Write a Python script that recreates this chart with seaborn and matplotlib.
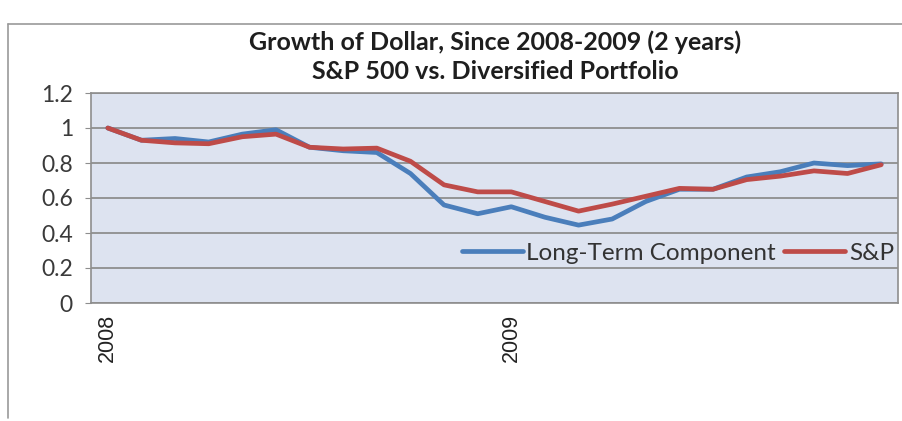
import matplotlib
matplotlib.use("Agg")
import matplotlib.pyplot as plt
import seaborn as sns
import pandas as pd
from matplotlib.lines import Line2D

# ---- data ----
months = list(range(24))
long_term = [1.00, 0.93, 0.94, 0.92, 0.965, 0.99, 0.89, 0.87, 0.86, 0.74, 0.56, 0.51,
             0.55, 0.49, 0.445, 0.48, 0.58, 0.65, 0.65, 0.72, 0.75, 0.80, 0.785, 0.795]
sp = [1.00, 0.93, 0.915, 0.91, 0.95, 0.965, 0.89, 0.88, 0.885, 0.81, 0.675, 0.635,
      0.635, 0.58, 0.525, 0.565, 0.61, 0.655, 0.65, 0.705, 0.725, 0.755, 0.74, 0.79]
series_names = ["Long-Term Component", "S&P"]
year_labels = ["2008", "2009"]
year_positions = [0, 12]
title_text = "Growth of Dollar, Since 2008-2009 (2 years)\nS&P 500 vs. Diversified Portfolio"

df = pd.DataFrame({
    "month": months * 2,
    "value": long_term + sp,
    "series": [series_names[0]] * len(months) + [series_names[1]] * len(months),
})

sns.set_style("white")
plt.rcParams["font.family"] = ["Lato", "DejaVu Sans"]

W, H = 902, 421
fig = plt.figure(figsize=(W / 100, H / 100), dpi=100)
ax = fig.add_axes([91 / W, 1 - 303 / H, (898 - 91) / W, (303 - 93) / H])
ax.set_facecolor("#DDE3F0")

palette = {series_names[0]: "#4A7EBB", series_names[1]: "#BE4B48"}
sns.lineplot(data=df, x="month", y="value", hue="series", palette=palette,
             linewidth=3.4, ax=ax, legend=False)

ax.set_xlim(-0.5, 23.5)
ax.set_ylim(0, 1.2)
ax.set_yticks([0, 0.2, 0.4, 0.6, 0.8, 1.0, 1.2])
ax.set_yticklabels(["0", "0.2", "0.4", "0.6", "0.8", "1", "1.2"],
                   fontsize=16.5, color="#3A3A3A")
ax.yaxis.grid(True, color="#8E8E8E", linewidth=1.3)
ax.set_axisbelow(True)

# major ticks: tick marks at boundaries; minor ticks: year labels
ax.set_xticks([-0.5, 5.5, 11.5, 17.5, 23.5])
ax.set_xticklabels([])
ax.set_xticks(year_positions, minor=True)
ax.set_xticklabels(year_labels, minor=True, rotation=90, fontsize=15.5,
                   color="#222222", family=["Liberation Sans", "DejaVu Sans"])
ax.tick_params(axis="x", which="major", length=4, color="#8E8E8E", direction="out")
ax.tick_params(axis="x", which="minor", length=0, pad=8)
ax.tick_params(axis="y", length=4, color="#8E8E8E", direction="out", pad=9,
               left=True)
ax.set_xlabel("")
ax.set_ylabel("")

for s in ["left", "bottom", "top", "right"]:
    ax.spines[s].set_color("#8E8E8E")
    ax.spines[s].set_linewidth(1.2)

handles = [Line2D([0], [0], color=palette[n], linewidth=3.4) for n in series_names]
leg = ax.legend(handles, series_names, ncol=2, loc="lower right",
                bbox_to_anchor=(1.007, 0.14), frameon=False, fontsize=17.5,
                handlelength=2.5, handletextpad=0.15, columnspacing=0.35,
                borderaxespad=0.0)
for t in leg.get_texts():
    t.set_color("#333333")

fig.text(495 / W, 1 - 57 / H, title_text, ha="center", va="center",
         fontsize=18, fontweight="bold", color="#1E1E1E", linespacing=1.3)

# outer chart border (left and top visible)
fig.add_artist(Line2D([8 / W, 8 / W], [1 - 24 / H, 1 - 418 / H],
                      transform=fig.transFigure, color="#9A9A9A", linewidth=1.2))
fig.add_artist(Line2D([8 / W, 1.0], [1 - 24 / H, 1 - 24 / H],
                      transform=fig.transFigure, color="#9A9A9A", linewidth=1.2))

fig.savefig("out.png", dpi=100)
